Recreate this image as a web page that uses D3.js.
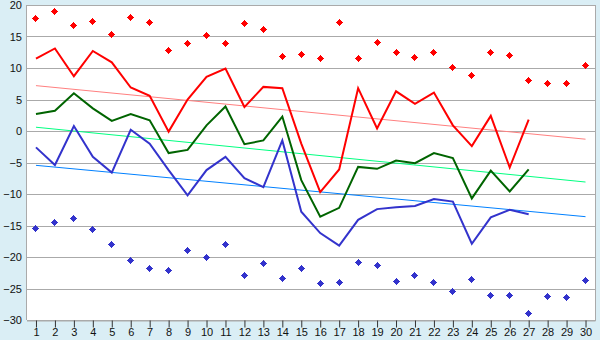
<!DOCTYPE html>
<html><head><meta charset="utf-8">
<script src="https://cdn.jsdelivr.net/npm/d3@7"></script>
<style>html,body{margin:0;padding:0;background:#DAEEF5;}svg{display:block;}</style>
</head><body>
<svg id="c" width="600" height="340"></svg>
<script>
const days = [1,2,3,4,5,6,7,8,9,10,11,12,13,14,15,16,17,18,19,20,21,22,23,24,25,26,27,28,29,30];
const yTicks = [-30,-25,-20,-15,-10,-5,0,5,10,15,20];
const maxPoints = [17.9,18.9,16.8,17.4,15.3,18.0,17.2,12.8,13.9,15.2,13.9,17.1,16.1,11.9,12.2,11.5,17.2,11.5,14.1,12.5,11.7,12.5,10.0,8.8,12.5,12.0,8.0,7.6,7.6,10.4];
const minPoints = [-15.4,-14.5,-13.9,-15.6,-18.0,-20.5,-21.8,-22.1,-18.9,-20.1,-18.0,-22.9,-21.0,-23.4,-21.8,-24.2,-24.0,-20.8,-21.3,-23.9,-22.9,-24.0,-25.4,-23.5,-26.1,-26.1,-28.9,-26.2,-26.4,-23.7];
const redLine = [11.5,13.1,8.7,12.7,10.9,6.9,5.6,-0.1,5.0,8.6,9.9,3.8,7.0,6.8,-2.0,-9.7,-6.1,6.8,0.4,6.3,4.3,6.1,0.9,-2.4,2.4,-5.8,1.8];
const greenLine = [2.7,3.2,6.0,3.6,1.6,2.7,1.7,-3.5,-3.0,0.9,3.9,-2.1,-1.5,2.3,-7.8,-13.6,-12.2,-5.7,-6.0,-4.7,-5.1,-3.5,-4.3,-10.7,-6.3,-9.6,-6.1];
const blueLine = [-2.6,-5.4,0.8,-4.1,-6.6,0.2,-2.0,-6.2,-10.2,-6.2,-4.1,-7.5,-8.9,-1.5,-12.8,-16.2,-18.2,-14.1,-12.4,-12.1,-11.9,-10.8,-11.2,-17.9,-13.7,-12.5,-13.2];
const redTrend = [7.2,-1.3];
const greenTrend = [0.6,-8.1];
const blueTrend = [-5.45,-13.6];
const trendDays = [1,30];

const svg = d3.select("#c");
const x = d3.scaleLinear().domain([0.5,30.5]).range([26.5,595]);
const y = d3.scaleLinear().domain([-30,20]).range([320,5]);

svg.append("rect").attr("x",27).attr("y",5).attr("width",568).attr("height",315).attr("fill","#fff");

svg.append("g").selectAll("line").data(yTicks).join("line")
  .attr("x1",27).attr("x2",595)
  .attr("y1",d=>Math.round(y(d))+0.5).attr("y2",d=>Math.round(y(d))+0.5)
  .attr("stroke","#AAAAAA").attr("stroke-width",1);
svg.append("line").attr("x1",26.5).attr("x2",26.5).attr("y1",5).attr("y2",320).attr("stroke","#AAAAAA");
svg.append("line").attr("x1",595.5).attr("x2",595.5).attr("y1",5).attr("y2",321).attr("stroke","#AAAAAA");

const fmt = d3.format("d");
svg.append("g").selectAll("text").data(yTicks).join("text")
  .attr("x",22).attr("y",d=>y(d)+4)
  .attr("text-anchor","end")
  .attr("font-family","Liberation Sans, Arial, sans-serif").attr("font-size",11).attr("fill","#111")
  .text(d=>fmt(d));

const xa = svg.append("g").attr("transform","translate(0,320.5)")
  .call(d3.axisBottom(x).tickValues(days).tickSize(7).tickSizeOuter(0).tickFormat(fmt));
xa.select(".domain").attr("stroke","#AAAAAA");
xa.selectAll(".tick line").attr("stroke","#333");
xa.selectAll(".tick text").attr("font-family","Liberation Sans, Arial, sans-serif").attr("font-size",11).attr("fill","#111").attr("dy","0.5em");

function trend(vals,color){
  svg.append("line").attr("x1",x(trendDays[0])).attr("x2",x(trendDays[1]))
    .attr("y1",y(vals[0])).attr("y2",y(vals[1])).attr("stroke",color).attr("stroke-width",1);
}
trend(redTrend,"#FF8080");
trend(greenTrend,"#00FF80");
trend(blueTrend,"#0080FF");

const line = d3.line().x((d,i)=>x(days[i])).y(d=>y(d));
function series(vals,color){
  svg.append("path").datum(vals).attr("d",line).attr("fill","none")
    .attr("stroke",color).attr("stroke-width",2).attr("stroke-linejoin","miter");
}
series(blueLine,"#3333CC");
series(greenLine,"#006400");
series(redLine,"#FF0000");

const marker = "M-0.5,-3.5h1v1h1v1h1v1h1v1h-1v1h-1v1h-1v1h-1v-1h-1v-1h-1v-1h-1v-1h1v-1h1v-1h1zM-1.5,-2.5h3v5h-3zM-2.5,-1.5h5v3h-5z";
function points(vals,color){
  svg.append("g").selectAll("path").data(vals).join("path")
    .attr("transform",(d,i)=>`translate(${Math.floor(x(days[i]))+0.5},${Math.floor(y(d))+0.5})`)
    .attr("d",marker).attr("fill",color);
}
points(maxPoints,"#FF0000");
points(minPoints,"#3333CC");
</script>
</body></html>
